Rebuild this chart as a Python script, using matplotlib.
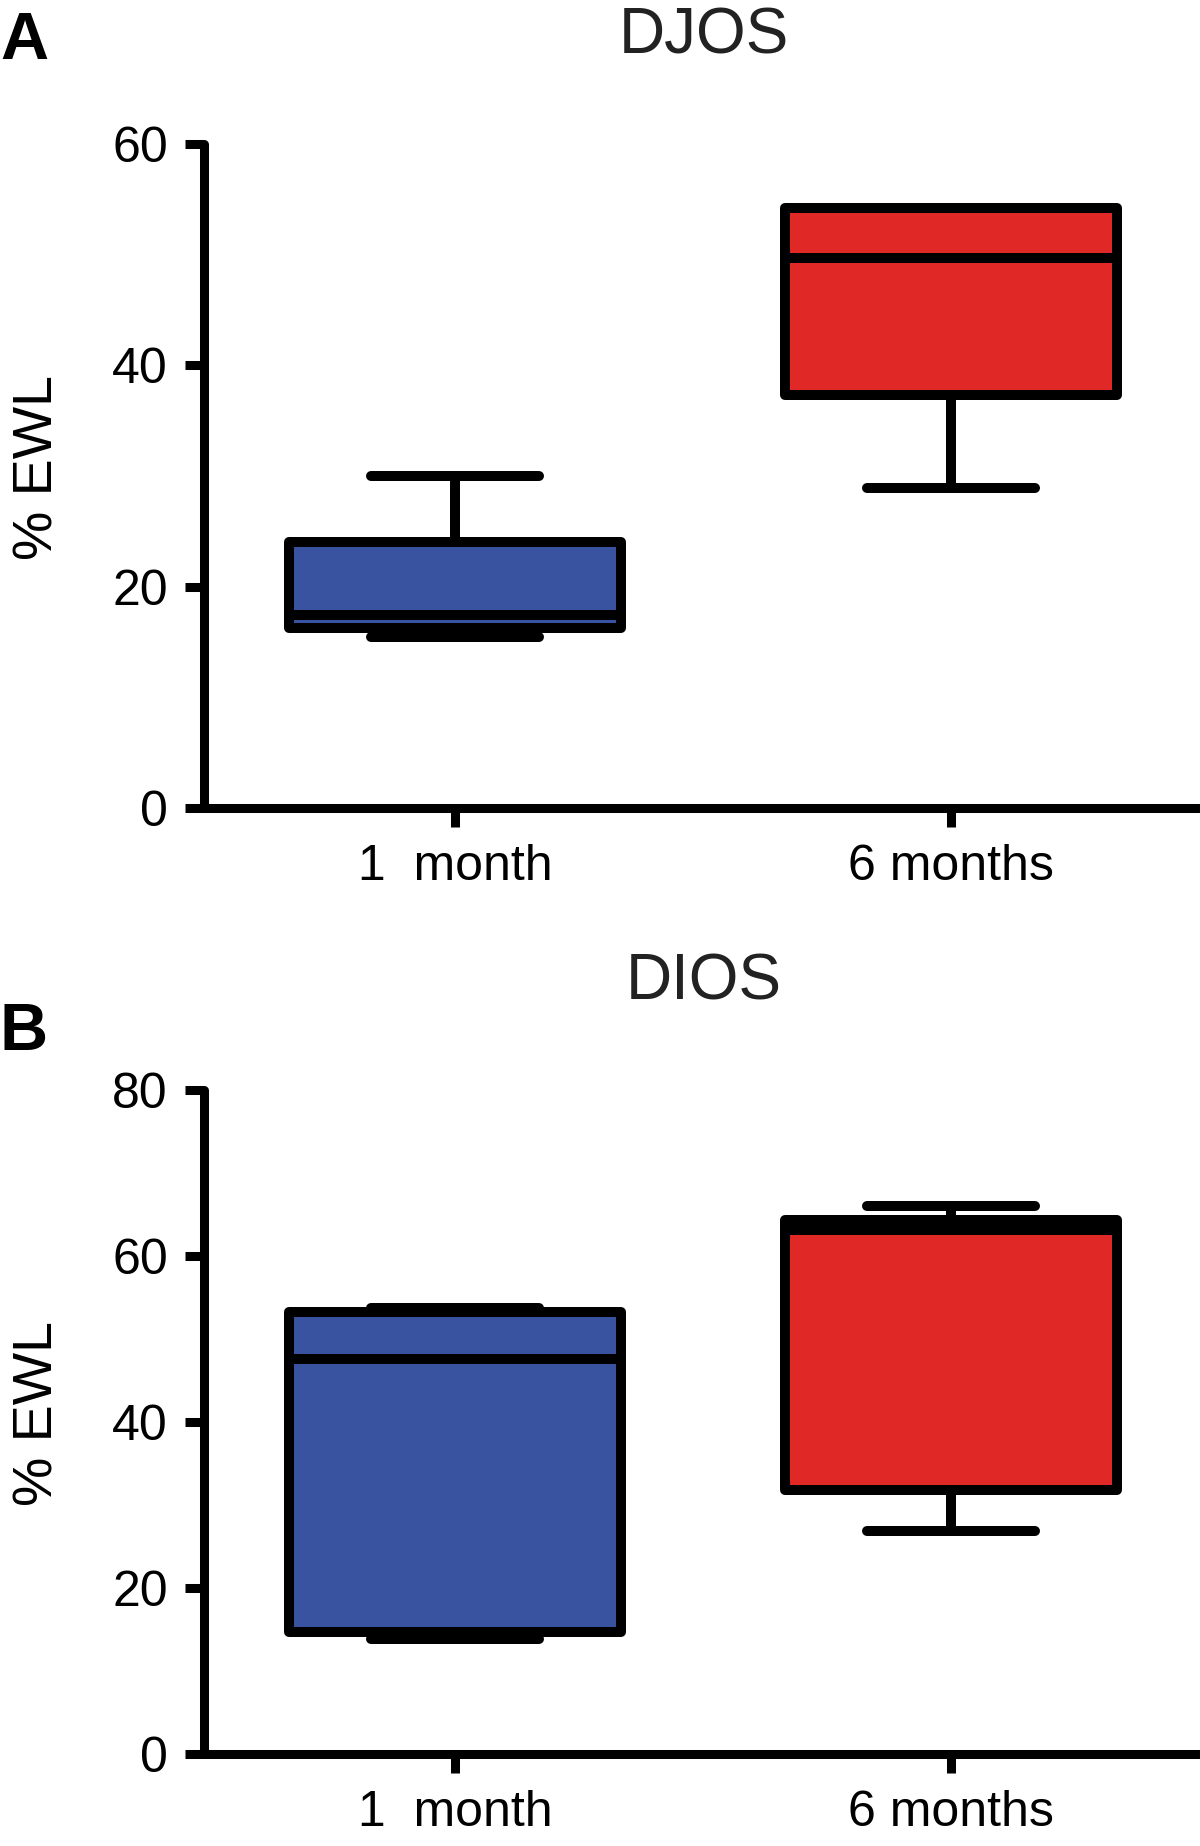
import matplotlib
matplotlib.use('Agg')
import matplotlib.pyplot as plt

plt.rcParams['font.family'] = ['Liberation Sans', 'DejaVu Sans']

groups = ['1  month', '6 months']
colors = ['#3953a0', '#e02926']

# DJOS (% EWL)
djos_whislo = [15.4, 28.9]
djos_q1 = [16.3, 37.3]
djos_med = [17.4, 49.7]
djos_q3 = [24.0, 54.2]
djos_whishi = [30.0, 54.2]

# DIOS (% EWL)
dios_whislo = [13.8, 26.8]
dios_q1 = [14.7, 31.8]
dios_med = [47.6, 63.2]
dios_q3 = [53.3, 64.4]
dios_whishi = [53.7, 66.0]

lw = 7.2


def panel(ax, whislo, q1, med, q3, whishi, ymax, ystep):
    stats = []
    for i in range(len(groups)):
        stats.append(dict(label=groups[i], whislo=whislo[i], q1=q1[i], med=med[i],
                          q3=q3[i], whishi=whishi[i], fliers=[]))
    bp = ax.bxp(stats, positions=[1, 2], widths=0.67, capwidths=0.34,
                patch_artist=True, showfliers=False,
                boxprops=dict(linewidth=lw, edgecolor='black', joinstyle='round'),
                medianprops=dict(color='black', linewidth=lw),
                whiskerprops=dict(color='black', linewidth=lw),
                capprops=dict(color='black', linewidth=lw, solid_capstyle='round'))
    for patch, c in zip(bp['boxes'], colors):
        patch.set_facecolor(c)
    for art in bp['boxes'] + bp['medians'] + bp['whiskers'] + bp['caps']:
        art.set_clip_on(False)
    ax.set_xlim(0.494, 2.502)
    ax.set_ylim(0, ymax)
    ax.set_yticks(range(0, ymax + 1, ystep))
    for s in ['top', 'right']:
        ax.spines[s].set_visible(False)
    for s in ['left', 'bottom']:
        ax.spines[s].set_linewidth(6.5)
        ax.spines[s].set_capstyle('round')
    ax.tick_params(axis='both', width=6.5, length=14, labelsize=36, direction='out')
    ax.tick_params(axis='y', pad=12)
    ax.tick_params(axis='x', pad=12)
    ax.set_ylabel('% EWL', fontsize=40, labelpad=34)
    ax.yaxis.label.set_y(0.513)


fig = plt.figure(figsize=(12, 18.46), dpi=100)
ax1 = fig.add_axes([0.17, 0.5623, 0.83, 0.3599])
panel(ax1, djos_whislo, djos_q1, djos_med, djos_q3, djos_whishi, 60, 20)
ax2 = fig.add_axes([0.17, 0.0501, 0.83, 0.3592])
panel(ax2, dios_whislo, dios_q1, dios_med, dios_q3, dios_whishi, 80, 20)

fig.text(704 / 1200, 1 - 37 / 1846, 'DJOS', fontsize=46, ha='center', va='center', color='#222222')
fig.text(704 / 1200, 1 - 982 / 1846, 'DIOS', fontsize=46, ha='center', va='center', color='#222222')
fig.text(24 / 1200, 1 - 42 / 1846, 'A', fontsize=48, fontweight='bold', ha='center', va='center')
fig.text(24 / 1200, 1 - 1033 / 1846, 'B', fontsize=48, fontweight='bold', ha='center', va='center')

fig.savefig('out.png', dpi=100)
